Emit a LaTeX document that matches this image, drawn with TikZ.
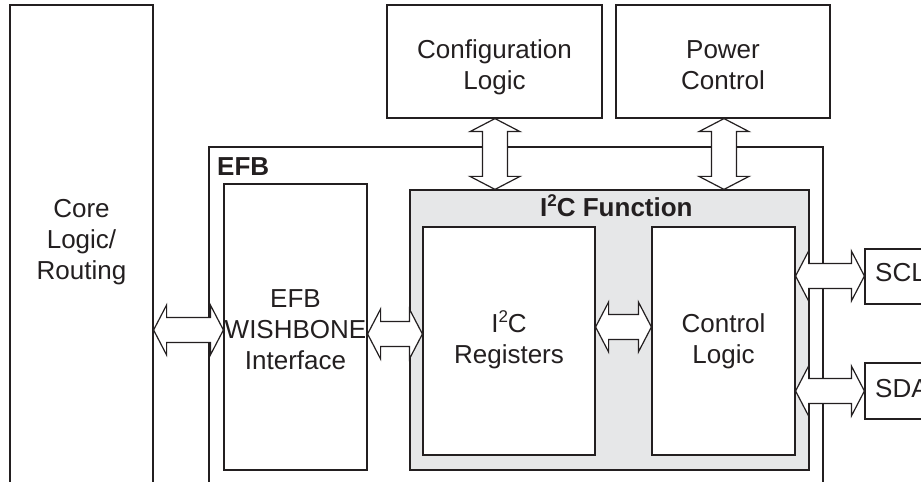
\documentclass[tikz,border=0pt]{standalone}
\usepackage{fontspec}
\setmainfont{Liberation Sans}
\usetikzlibrary{calc,fit}
\definecolor{ln}{HTML}{231F20}
\definecolor{gfill}{HTML}{E6E7E8}
\newcommand\sqtwo{{\fontsize{17bp}{17bp}\selectfont\raisebox{10bp}{2}}}
\tikzset{
  box/.style={draw=ln, line width=1.2bp, rectangle, inner sep=0pt},
  txt/.style={inner sep=0pt, font=\fontsize{26bp}{31bp}\selectfont, align=center, text=ln},
  btxt/.style={inner sep=0pt, font=\fontsize{26bp}{31bp}\selectfont\bfseries, text=ln},
  fat/.style={draw=ln, fill=white, line width=1.2bp, line join=miter},
}
% horizontal fat double arrow between two named coordinates (left, right)
\newcommand\hfat[2]{%
  \draw[fat] (#1) -- ($(#1)+(13,-25)$) -- ($(#1)+(13,-12.5)$) -- ($(#2)+(-13,-12.5)$)
    -- ($(#2)+(-13,-25)$) -- (#2) -- ($(#2)+(-13,25)$) -- ($(#2)+(-13,12.5)$)
    -- ($(#1)+(13,12.5)$) -- ($(#1)+(13,25)$) -- cycle;}
% vertical fat double arrow between two named coordinates (top, bottom)
\newcommand\vfat[2]{%
  \draw[fat] (#1) -- ($(#1)+(-25,13)$) -- ($(#1)+(-12.5,13)$) -- ($(#2)+(-12.5,-13)$)
    -- ($(#2)+(-25,-13)$) -- (#2) -- ($(#2)+(25,-13)$) -- ($(#2)+(12.5,-13)$)
    -- ($(#1)+(12.5,13)$) -- ($(#1)+(25,13)$) -- cycle;}
\begin{document}
\begin{tikzpicture}[x=1bp,y=-1bp]
\path[use as bounding box] (0,0) rectangle (921,482);
\clip (0,0) rectangle (921,482);
% boxes
\node[box, fit={(10,5) (153,500)}] (core) {};
\node[box, fit={(387,5) (602,118)}] (cfg) {};
\node[box, fit={(616,5) (830,118)}] (pwr) {};
\node[box, fit={(209,147) (823,500)}] (efb) {};
\node[box, fit={(224,184) (367,470)}] (wb) {};
\node[box, fill=gfill, fit={(410,190) (809,470)}] (fn) {};
\node[box, fill=white, fit={(423,227) (595,455)}] (reg) {};
\node[box, fill=white, fit={(652,227) (795,455)}] (cl) {};
\node[box, fit={(865,249) (960,304)}] (scl) {};
\node[box, fit={(865,363) (960,419)}] (sda) {};
% texts
\node[txt] (coretxt) at (81.5,242) {Core\\Logic/\\Routing};
\node[txt] (cfgtxt) at (494.5,67.5) {Configuration\\Logic};
\node[txt] (pwrtxt) at (723,65) {Power\\Control};
\node[btxt, anchor=base west] (efbtxt) at (217,176) {EFB};
\node[txt] (wbtxt) at (295.5,330) {EFB\\WISHBONE\\Interface};
\node[btxt, anchor=base west] (fntxt) at (540,217) {I\sqtwo C Function};
\node[txt] (regtxt) at (509,340) {I\sqtwo C\\Registers};
\node[txt] (cltxt) at (723.5,341.5) {Control\\Logic};
\node[txt, anchor=base west] (scltxt) at (875,282) {SCL};
\node[txt, anchor=base west] (sdatxt) at (875,397) {SDA};
% arrow end points
\coordinate (a1) at (core.east |- 0,330);
\coordinate (b1) at (wb.west |- 0,330);
\coordinate (a2) at (wb.east |- 0,334);
\coordinate (b2) at (reg.west |- 0,334);
\coordinate (a3) at (reg.east |- 0,327);
\coordinate (b3) at (cl.west |- 0,327);
\coordinate (a4) at (cl.east |- 0,276);
\coordinate (b4) at (scl.west |- 0,276);
\coordinate (a5) at (cl.east |- 0,391);
\coordinate (b5) at (sda.west |- 0,391);
\coordinate (v1a) at (cfg.south -| 495,0);
\coordinate (v1b) at (fn.north -| 495,0);
\coordinate (v2a) at (pwr.south -| 724,0);
\coordinate (v2b) at (fn.north -| 724,0);
% arrows
\hfat{a1}{b1}
\hfat{a2}{b2}
\hfat{a3}{b3}
\hfat{a4}{b4}
\hfat{a5}{b5}
\vfat{v1a}{v1b}
\vfat{v2a}{v2b}
\end{tikzpicture}
\end{document}
